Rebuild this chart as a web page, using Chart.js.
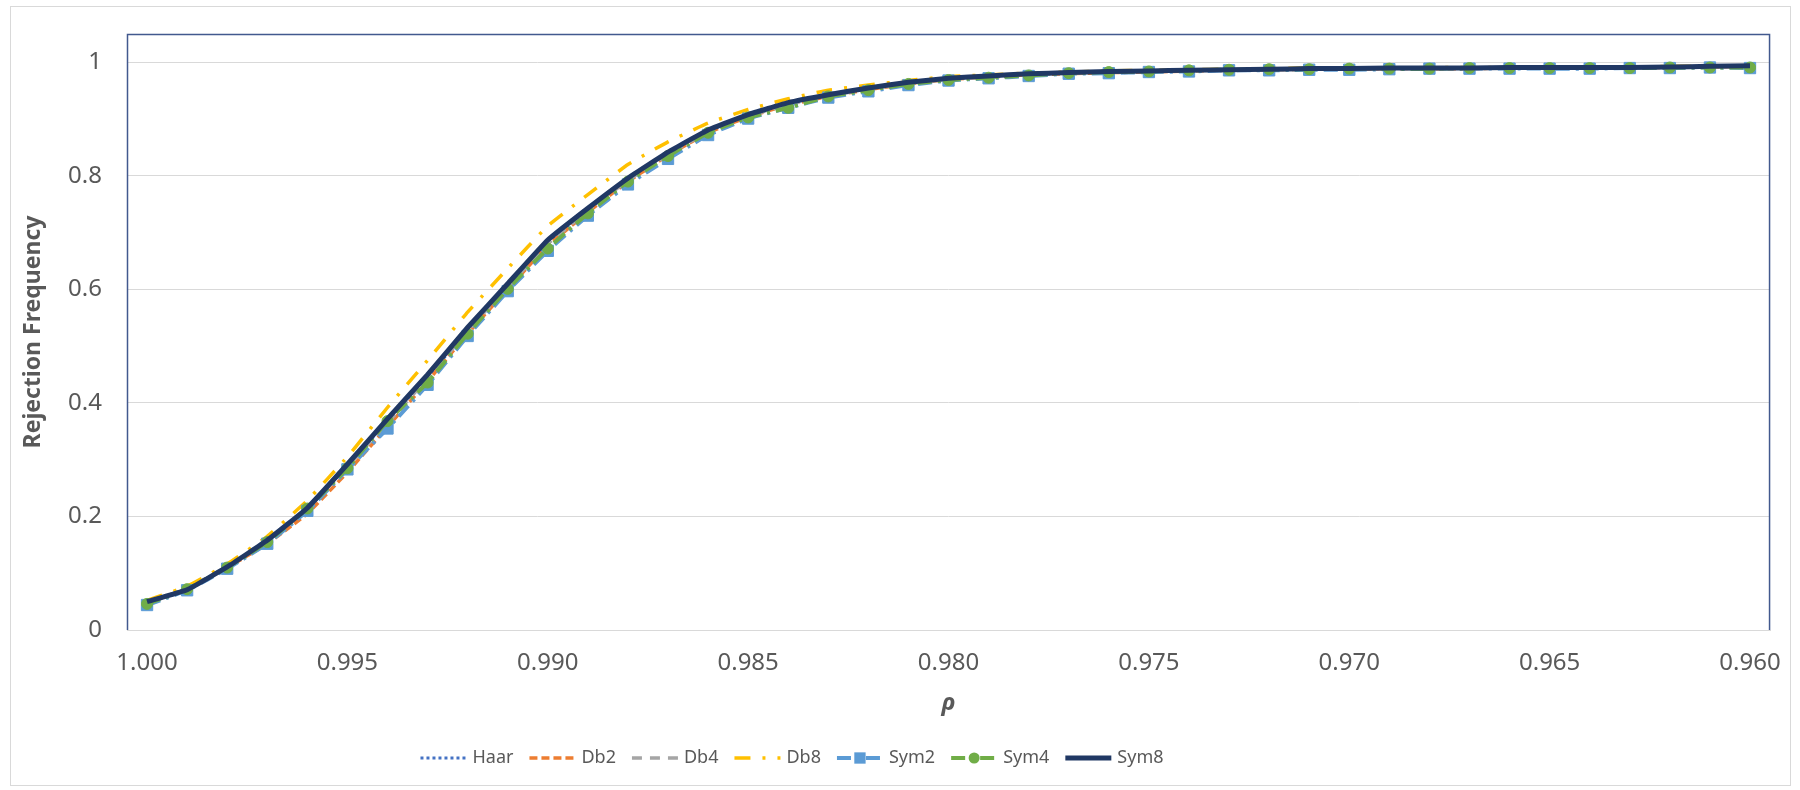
<!DOCTYPE html>
<html>
<head>
<meta charset="utf-8">
<script src="https://cdn.jsdelivr.net/npm/chart.js@4.4.1/dist/chart.umd.min.js"></script>
<style>
  html, body { margin: 0; padding: 0; background: #fff; }
  #wrap { position: relative; width: 1800px; height: 790px; }
  #frame { position: absolute; left: 10px; top: 6px; width: 1779px; height: 778px; border: 1px solid #d9d9d9; pointer-events: none; }
  canvas { position: absolute; left: 0; top: 0; }
</style>
</head>
<body>
<div id="wrap"><canvas id="rejChart" width="1800" height="790"></canvas><div id="frame"></div></div>
<script>
const FONT = '"Noto Sans", "Open Sans", sans-serif'

const rho = ['1.000', '0.999', '0.998', '0.997', '0.996', '0.995', '0.994', '0.993', '0.992', '0.991',
    '0.990', '0.989', '0.988', '0.987', '0.986', '0.985', '0.984', '0.983', '0.982', '0.981',
    '0.980', '0.979', '0.978', '0.977', '0.976', '0.975', '0.974', '0.973', '0.972', '0.971',
    '0.970', '0.969', '0.968', '0.967', '0.966', '0.965', '0.964', '0.963', '0.962', '0.961', '0.960']

const haar = [0.049, 0.072, 0.111, 0.157, 0.213, 0.289, 0.368, 0.446, 0.528, 0.606,
    0.682, 0.740, 0.793, 0.839, 0.879, 0.906, 0.927, 0.942, 0.954, 0.964,
    0.971, 0.975, 0.979, 0.981, 0.983, 0.985, 0.986, 0.987, 0.988, 0.988,
    0.989, 0.989, 0.990, 0.990, 0.990, 0.991, 0.991, 0.991, 0.992, 0.992, 0.993]
const db2 = [0.048, 0.073, 0.110, 0.152, 0.205, 0.278, 0.358, 0.438, 0.522, 0.601,
    0.677, 0.736, 0.790, 0.836, 0.876, 0.904, 0.925, 0.940, 0.952, 0.962,
    0.970, 0.974, 0.978, 0.980, 0.982, 0.983, 0.985, 0.986, 0.987, 0.988,
    0.988, 0.989, 0.989, 0.989, 0.990, 0.990, 0.990, 0.991, 0.991, 0.992, 0.993]
const db4 = [0.048, 0.073, 0.112, 0.157, 0.214, 0.288, 0.365, 0.443, 0.527, 0.605,
    0.680, 0.739, 0.792, 0.838, 0.878, 0.905, 0.926, 0.941, 0.953, 0.963,
    0.970, 0.974, 0.978, 0.981, 0.983, 0.984, 0.986, 0.987, 0.987, 0.988,
    0.989, 0.989, 0.989, 0.990, 0.990, 0.991, 0.991, 0.991, 0.992, 0.992, 0.993]
const db8 = [0.052, 0.077, 0.116, 0.165, 0.228, 0.305, 0.392, 0.475, 0.560, 0.637,
    0.712, 0.767, 0.820, 0.860, 0.893, 0.917, 0.936, 0.951, 0.960, 0.968,
    0.975, 0.978, 0.981, 0.983, 0.985, 0.986, 0.987, 0.988, 0.989, 0.990,
    0.990, 0.990, 0.991, 0.991, 0.991, 0.992, 0.992, 0.992, 0.993, 0.993, 0.994]
const sym2 = [0.044, 0.070, 0.108, 0.152, 0.210, 0.283, 0.355, 0.432, 0.518, 0.597,
    0.668, 0.730, 0.785, 0.830, 0.872, 0.901, 0.920, 0.938, 0.949, 0.960,
    0.968, 0.972, 0.976, 0.980, 0.981, 0.983, 0.984, 0.986, 0.986, 0.987,
    0.987, 0.988, 0.989, 0.989, 0.989, 0.989, 0.989, 0.990, 0.990, 0.991, 0.990]
const sym4 = [0.046, 0.072, 0.110, 0.155, 0.214, 0.285, 0.368, 0.436, 0.522, 0.601,
    0.672, 0.734, 0.790, 0.835, 0.876, 0.903, 0.920, 0.940, 0.951, 0.962,
    0.969, 0.973, 0.977, 0.981, 0.983, 0.984, 0.986, 0.987, 0.988, 0.988,
    0.989, 0.989, 0.989, 0.990, 0.990, 0.990, 0.990, 0.990, 0.991, 0.991, 0.991]
const sym8 = [0.050, 0.071, 0.111, 0.158, 0.215, 0.292, 0.372, 0.450, 0.533, 0.610,
    0.687, 0.743, 0.796, 0.842, 0.881, 0.908, 0.929, 0.943, 0.955, 0.965,
    0.972, 0.976, 0.980, 0.982, 0.984, 0.985, 0.986, 0.987, 0.988, 0.989,
    0.989, 0.990, 0.990, 0.990, 0.991, 0.991, 0.991, 0.991, 0.992, 0.993, 0.994]

const yTicks = [0, 0.2, 0.4, 0.6, 0.8, 1]
const labelEvery = 5

// blue frame around plot area (left, top, right)
const plotFrame = {
    id: 'plotFrame',
    beforeDatasetsDraw(chart) {
        const {ctx, chartArea: a} = chart
        ctx.save()
        ctx.strokeStyle = '#42598e'
        ctx.lineWidth = 1.5
        ctx.beginPath()
        ctx.moveTo(a.left + 0.5, a.bottom)
        ctx.lineTo(a.left + 0.5, a.top + 0.5)
        ctx.lineTo(a.right - 0.5, a.top + 0.5)
        ctx.lineTo(a.right - 0.5, a.bottom)
        ctx.stroke()
        ctx.restore()
    }
}

// excel-like legend: line sample with dash + marker, then text
const lineLegend = {
    id: 'lineLegend',
    afterDraw(chart) {
        const ctx = chart.ctx
        const sets = chart.data.datasets
        const sampleW = 46, gapText = 6, gapItem = 16
        ctx.save()
        ctx.font = '18px ' + FONT
        let total = 0
        sets.forEach((ds, i) => {
            total += sampleW + gapText + ctx.measureText(ds.label).width + (i < sets.length - 1 ? gapItem : 0)
        })
        let x = 792 - total / 2
        const y = 758
        sets.forEach((ds) => {
            ctx.save()
            ctx.strokeStyle = ds.borderColor
            ctx.lineWidth = ds.borderWidth
            ctx.setLineDash(ds.borderDash || [])
            ctx.lineCap = ds.borderCapStyle || 'butt'
            ctx.beginPath()
            ctx.moveTo(x, y)
            ctx.lineTo(x + sampleW, y)
            ctx.stroke()
            ctx.restore()
            if (ds.pointRadius > 0) {
                const cx = x + sampleW / 2
                ctx.fillStyle = ds.pointBackgroundColor
                ctx.beginPath()
                if (ds.pointStyle === 'rect') {
                    const s = ds.pointRadius * Math.SQRT1_2
                    ctx.rect(cx - s, y - s, 2 * s, 2 * s)
                } else {
                    ctx.arc(cx, y, ds.pointRadius, 0, Math.PI * 2)
                }
                ctx.fill()
            }
            ctx.fillStyle = '#595959'
            ctx.textBaseline = 'middle'
            ctx.fillText(ds.label, x + sampleW + gapText, y)
            x += sampleW + gapText + ctx.measureText(ds.label).width + gapItem
        })
        ctx.restore()
    }
}

function series(label, data, color, width, dash, order, extra) {
    return Object.assign({
        label: label,
        data: data,
        borderColor: color,
        backgroundColor: color,
        borderWidth: width,
        borderDash: dash,
        pointRadius: 0,
        pointHoverRadius: 0,
        tension: 0.1,
        fill: false,
        order: order
    }, extra || {})
}

const ctx = document.getElementById('rejChart').getContext('2d')
new Chart(ctx, {
    type: 'line',
    data: {
        labels: rho,
        datasets: [
            series('Haar', haar, '#4472c4', 3, [3, 3], 6),
            series('Db2', db2, '#ed7d31', 3.5, [8, 4], 5),
            series('Db4', db4, '#a5a5a5', 3.5, [10, 8], 4),
            series('Db8', db8, '#ffc000', 3.5, [16, 12, 3, 12], 3),
            series('Sym2', sym2, '#5b9bd5', 4, [14, 6, 3, 6], 2, {
                pointRadius: 8, pointStyle: 'rect', pointBackgroundColor: '#5b9bd5', pointBorderColor: '#5b9bd5', pointBorderWidth: 1
            }),
            series('Sym4', sym4, '#70ad47', 4, [14, 6, 3, 6], 1, {
                pointRadius: 5.5, pointStyle: 'circle', pointBackgroundColor: '#70ad47', pointBorderColor: '#70ad47', pointBorderWidth: 1
            }),
            series('Sym8', sym8, '#203864', 5, [], 0)
        ]
    },
    options: {
        responsive: false,
        animation: false,
        layout: {padding: {left: 10, right: 26, top: 34, bottom: 72}},
        plugins: {
            legend: {display: false},
            tooltip: {enabled: false}
        },
        scales: {
            x: {
                offset: true,
                afterFit: (s) => { s.height = 88 },
                grid: {display: false, drawTicks: false},
                border: {display: true, color: '#d9d9d9', width: 1},
                ticks: {
                    autoSkip: false,
                    maxRotation: 0,
                    padding: 19,
                    color: '#595959',
                    font: {family: FONT, size: 24},
                    callback: (v, i) => i % labelEvery === 0 ? rho[i] : ''
                },
                title: {
                    display: true,
                    text: 'ρ',
                    color: '#595959',
                    font: {family: FONT, size: 24, weight: 'bold', style: 'italic'},
                    padding: {top: 0, bottom: 0}
                }
            },
            y: {
                min: 0,
                max: 1.05,
                afterFit: (s) => {
                    s.width = 117
                    s.paddingTop = 0
                    s.paddingBottom = 0
                },
                afterBuildTicks: (s) => { s.ticks = yTicks.map((v) => ({value: v})) },
                grid: {color: '#d9d9d9', lineWidth: 1, drawTicks: false},
                border: {display: false},
                ticks: {
                    padding: 25,
                    color: '#595959',
                    font: {family: FONT, size: 24},
                    callback: (v) => String(Math.round(v * 10) / 10)
                },
                title: {
                    display: true,
                    text: 'Rejection Frequency',
                    color: '#595959',
                    font: {family: FONT, size: 23, weight: 'bold'},
                    padding: {top: 10, bottom: 0}
                }
            }
        }
    },
    plugins: [plotFrame, lineLegend]
})
</script>
</body>
</html>
